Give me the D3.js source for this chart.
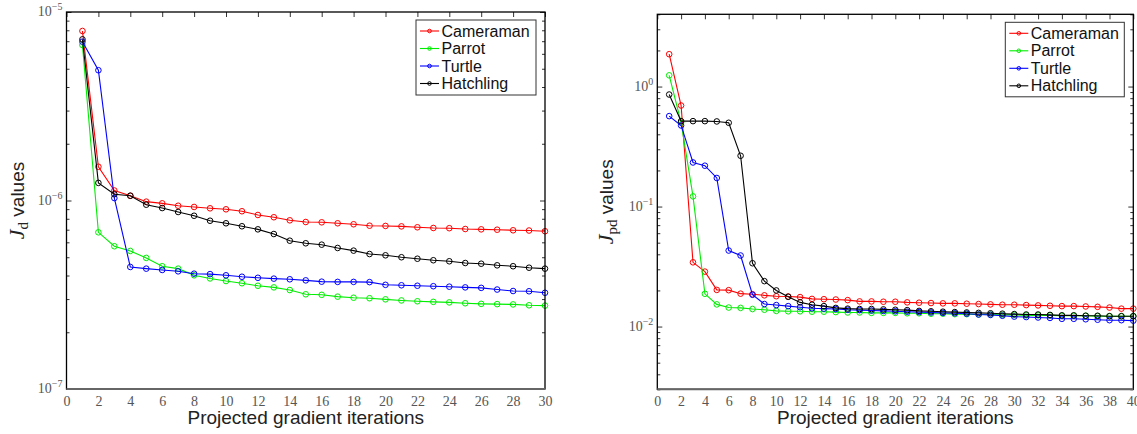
<html lang="en">
<head>
  <meta charset="UTF-8">
  <title>J values</title>
  <style>
    body { margin: 0; background: #fff; }
    .tick text { font-family: "Liberation Serif", "DejaVu Serif", serif; }
  </style>
</head>
<body>
  <div id="viz"></div>
  <script src="https://d3js.org/d3.v7.min.js"></script>
  <script>
    // ---- data: left panel (J_d) ----
    const itersD = d3.range(1, 31)
    const camD = [7.93e-6, 1.51e-6, 1.13e-6, 1.06e-6, 9.86e-7, 9.66e-7, 9.38e-7, 9.24e-7, 9.09e-7, 8.98e-7,
      8.77e-7, 8.38e-7, 8.15e-7, 7.85e-7, 7.69e-7, 7.66e-7, 7.57e-7, 7.48e-7, 7.35e-7, 7.33e-7,
      7.29e-7, 7.21e-7, 7.15e-7, 7.13e-7, 7.06e-7, 7.03e-7, 7.00e-7, 6.95e-7, 6.93e-7, 6.87e-7]
    const parD = [6.68e-6, 6.78e-7, 5.72e-7, 5.40e-7, 4.96e-7, 4.48e-7, 4.35e-7, 4.01e-7, 3.86e-7, 3.74e-7,
      3.64e-7, 3.53e-7, 3.46e-7, 3.35e-7, 3.18e-7, 3.16e-7, 3.09e-7, 3.05e-7, 3.03e-7, 2.99e-7,
      2.95e-7, 2.92e-7, 2.90e-7, 2.88e-7, 2.85e-7, 2.83e-7, 2.82e-7, 2.81e-7, 2.78e-7, 2.77e-7]
    const turD = [6.96e-6, 4.91e-6, 1.03e-6, 4.44e-7, 4.35e-7, 4.28e-7, 4.21e-7, 4.09e-7, 4.07e-7, 4.01e-7,
      3.94e-7, 3.89e-7, 3.85e-7, 3.82e-7, 3.77e-7, 3.71e-7, 3.70e-7, 3.70e-7, 3.69e-7, 3.57e-7,
      3.55e-7, 3.53e-7, 3.51e-7, 3.49e-7, 3.46e-7, 3.44e-7, 3.37e-7, 3.31e-7, 3.30e-7, 3.24e-7]
    const hatD = [7.16e-6, 1.24e-6, 1.08e-6, 1.06e-6, 9.50e-7, 9.12e-7, 8.69e-7, 8.30e-7, 7.81e-7, 7.57e-7,
      7.30e-7, 7.03e-7, 6.64e-7, 6.12e-7, 5.93e-7, 5.83e-7, 5.60e-7, 5.42e-7, 5.20e-7, 5.12e-7,
      5.00e-7, 4.91e-7, 4.82e-7, 4.76e-7, 4.66e-7, 4.62e-7, 4.53e-7, 4.48e-7, 4.40e-7, 4.35e-7]

    // ---- data: right panel (J_pd) ----
    const itersPD = d3.range(1, 41)
    const camPD = [1.86, 0.695, 0.0343, 0.0287, 0.0202, 0.0201, 0.0188, 0.0186, 0.0182, 0.0179,
      0.0178, 0.0176, 0.0170, 0.0169, 0.0168, 0.0166, 0.0162, 0.0162, 0.0161, 0.0161,
      0.0159, 0.0158, 0.0157, 0.0156, 0.0156, 0.0155, 0.0154, 0.0153, 0.0152, 0.0152,
      0.0151, 0.0150, 0.0149, 0.0148, 0.0148, 0.0147, 0.0146, 0.0144, 0.0141, 0.0141]
    const parPD = [1.24, 0.50, 0.1216, 0.01875, 0.0153, 0.0144, 0.0143, 0.0140, 0.0138, 0.0135,
      0.0134, 0.0134, 0.0133, 0.0133, 0.0132, 0.0131, 0.0131, 0.0130, 0.0130, 0.0130,
      0.0129, 0.0129, 0.0128, 0.0128, 0.0127, 0.0127, 0.0126, 0.0126, 0.0125, 0.0125,
      0.0124, 0.0124, 0.0124, 0.0123, 0.0123, 0.0123, 0.0122, 0.0122, 0.0122, 0.0122]
    const turPD = [0.567, 0.474, 0.233, 0.219, 0.173, 0.043, 0.0391, 0.0184, 0.0154, 0.0151,
      0.0148, 0.0145, 0.0142, 0.0141, 0.0140, 0.0138, 0.0137, 0.0136, 0.0135, 0.0134,
      0.0133, 0.0132, 0.0131, 0.0130, 0.0129, 0.0128, 0.0126, 0.0125, 0.0123, 0.0121,
      0.0120, 0.0119, 0.0118, 0.0116, 0.0116, 0.0115, 0.0114, 0.0113, 0.0113, 0.0112]
    const hatPD = [0.858, 0.515, 0.515, 0.515, 0.512, 0.499, 0.265, 0.0337, 0.0239, 0.0200,
      0.0177, 0.0159, 0.0152, 0.0148, 0.0143, 0.0141, 0.0140, 0.0140, 0.0139, 0.0138,
      0.0137, 0.0135, 0.0134, 0.0133, 0.0132, 0.0131, 0.0130, 0.0129, 0.0128, 0.0127,
      0.0126, 0.0126, 0.0125, 0.0124, 0.0124, 0.0123, 0.0123, 0.0122, 0.0122, 0.0122]

    const names = ["Cameraman", "Parrot", "Turtle", "Hatchling"]
    const colors = ["#ff0000", "#00ee00", "#0000ff", "#000000"]
    const xTicksD = d3.range(0, 31, 2)
    const xTicksPD = d3.range(0, 41, 2)

    const svg = d3.select("#viz").append("svg")
      .attr("width", 1137).attr("height", 434)

    panel({
      left: 66.5, top: 12, w: 478.5, h: 377,
      xmax: 30, xTicks: xTicksD, iters: itersD,
      ydom: [1e-7, 1e-5], decades: [-7, -6, -5],
      series: [camD, parD, turD, hatD],
      sub: "d", labelX: 24,
      legend: {x: 416, y: 20, w: 120, h: 75}
    })
    panel({
      left: 657.3, top: 14.3, w: 476, h: 375,
      xmax: 40, xTicks: xTicksPD, iters: itersPD,
      ydom: [3e-3, 4], decades: [-2, -1, 0],
      series: [camPD, parPD, turPD, hatPD],
      sub: "pd", labelX: 613,
      legend: {x: 1005.3, y: 22.3, w: 119, h: 74.5}
    })

    function panel(o) {
      const g = svg.append("g").attr("transform", "translate(" + o.left + "," + o.top + ")")
      const x = d3.scaleLinear().domain([0, o.xmax]).range([0, o.w])
      const y = d3.scaleLog().domain(o.ydom).range([o.h, 0])

      // all log ticks (minor + major) inside the domain
      let logTicks = []
      for (let e = -8; e <= 1; e++) {
        for (let k = 1; k <= 9; k++) {
          const v = k * Math.pow(10, e)
          if (v >= o.ydom[0] * 0.999 && v <= o.ydom[1] * 1.001) logTicks.push(v)
        }
      }
      const isMajor = v => Math.abs(Math.log10(v) - Math.round(Math.log10(v))) < 1e-6

      // bottom axis labels
      const bx = g.append("g").attr("transform", "translate(0," + o.h + ")")
        .call(d3.axisBottom(x).tickValues(o.xTicks).tickSize(0).tickPadding(7).tickFormat(d3.format("d")))
      bx.select(".domain").remove()
      bx.selectAll("text").attr("fill", "#555").attr("font-size", 14)

      // top ticks (inward)
      const tx = g.append("g").call(d3.axisTop(x).tickValues(o.xTicks).tickSize(-5).tickFormat(""))
      tx.select(".domain").remove()
      tx.selectAll("line").attr("stroke", "#333")

      // left ticks (inward)
      const ly = g.append("g").call(d3.axisLeft(y).tickValues(logTicks).tickFormat(""))
      ly.select(".domain").remove()
      ly.selectAll("line")
        .attr("stroke", "#333")
        .attr("x2", d => isMajor(d) ? 5 : 3)

      // right ticks (inward)
      const ry = g.append("g").attr("transform", "translate(" + o.w + ",0)")
        .call(d3.axisRight(y).tickValues(logTicks).tickFormat(""))
      ry.select(".domain").remove()
      ry.selectAll("line").attr("stroke", "#333").attr("x2", d => isMajor(d) ? -5 : -3)

      // decade labels 10^e
      const dl = g.append("g").selectAll("text").data(o.decades).enter().append("text")
        .attr("x", -4).attr("y", e => y(Math.pow(10, e)) + 4)
        .attr("text-anchor", "end")
        .attr("fill", "#555")
        .attr("font-family", "Liberation Serif, DejaVu Serif, serif")
        .attr("font-size", 14)
      dl.append("tspan").text("10")
      dl.append("tspan").attr("dy", -6).attr("font-size", 10).text(e => e === 0 ? "0" : "\u2212" + Math.abs(e))

      // lines and markers
      const line = d3.line().x((d, i) => x(o.iters[i])).y(d => y(d))
      o.series.forEach(function(s, si) {
        g.append("path").datum(s)
          .attr("d", line)
          .attr("fill", "none")
          .attr("stroke", colors[si])
          .attr("stroke-width", 1.1)
        g.append("g").selectAll("circle").data(s).enter().append("circle")
          .attr("cx", (d, i) => x(o.iters[i]))
          .attr("cy", d => y(d))
          .attr("r", 2.8)
          .attr("fill", "none")
          .attr("stroke", colors[si])
          .attr("stroke-width", 1)
      })

      // frame
      g.append("rect").attr("width", o.w).attr("height", o.h)
        .attr("fill", "none").attr("stroke", "#000").attr("stroke-width", 1.3)
      g.append("line").attr("x1", 0).attr("x2", o.w).attr("y1", o.h).attr("y2", o.h)
        .attr("stroke", "#666").attr("stroke-width", 2)

      // x label
      svg.append("text")
        .attr("x", o.left + o.w / 2).attr("y", 424)
        .attr("text-anchor", "middle")
        .attr("font-family", "Liberation Sans, Arial, sans-serif")
        .attr("font-size", 19).attr("fill", "#222")
        .text("Projected gradient iterations")

      // y label
      const yl = svg.append("text")
        .attr("transform", "translate(" + o.labelX + "," + (o.top + o.h / 2) + ") rotate(-90)")
        .attr("text-anchor", "middle")
        .attr("fill", "#222")
      yl.append("tspan").attr("font-family", "Liberation Serif, DejaVu Serif, serif").attr("font-style", "italic")
        .attr("font-size", 22).text("J")
      yl.append("tspan").attr("font-family", "Liberation Serif, DejaVu Serif, serif")
        .attr("font-size", 15).attr("dy", 4).text(o.sub)
      yl.append("tspan").attr("font-family", "Liberation Sans, Arial, sans-serif")
        .attr("font-size", 19).attr("dy", -4).text(" values")

      // legend
      const L = o.legend
      const lg = svg.append("g").attr("transform", "translate(" + L.x + "," + L.y + ")")
      lg.append("rect").attr("width", L.w).attr("height", L.h)
        .attr("fill", "#fff").attr("stroke", "#333").attr("stroke-width", 1)
      const items = lg.selectAll("g.item").data(names).enter().append("g")
        .attr("class", "item")
        .attr("transform", (d, i) => "translate(0," + (11 + i * 17.5) + ")")
      items.append("line").attr("x1", 4).attr("x2", 23).attr("y1", 0).attr("y2", 0)
        .attr("stroke", (d, i) => colors[i]).attr("stroke-width", 1.1)
      items.append("circle").attr("cx", 13.5).attr("cy", 0).attr("r", 1.8)
        .attr("fill", "none").attr("stroke", (d, i) => colors[i])
      items.append("text").attr("x", 25.5).attr("y", 5.5)
        .attr("font-family", "Liberation Sans, Arial, sans-serif")
        .attr("font-size", 16).attr("fill", "#111")
        .text(d => d)
    }
  </script>
</body>
</html>
